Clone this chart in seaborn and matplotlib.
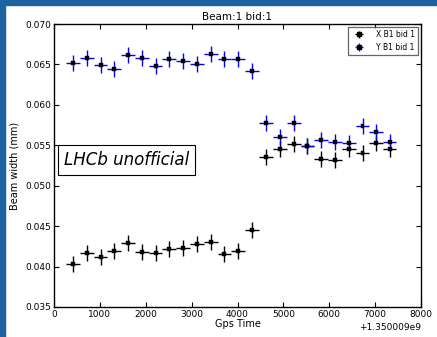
import matplotlib
matplotlib.use("Agg")
import matplotlib.pyplot as plt
import seaborn as sns
import pandas as pd
from matplotlib.patches import Rectangle

T0 = 1350009000
# x positions (seconds after T0)
t_offsets = [415, 715, 1015, 1315, 1615, 1915, 2215, 2515, 2815, 3115, 3415, 3715, 4015, 4315,
             4625, 4925, 5225, 5525, 5825, 6125, 6425, 6725, 7025, 7315]
x_width = [0.04036, 0.04168, 0.04122, 0.04189, 0.04288, 0.04184, 0.04168, 0.04213, 0.04230,
           0.04275, 0.04308, 0.04159, 0.04193, 0.04449,
           0.05359, 0.05454, 0.05520, 0.05495, 0.05330, 0.05318, 0.05450, 0.05405, 0.05524, 0.05454]
y_width = [0.06514, 0.06583, 0.06489, 0.06443, 0.06613, 0.06580, 0.06484, 0.06571, 0.06542,
           0.06509, 0.06625, 0.06563, 0.06563, 0.06423,
           0.05772, 0.05599, 0.05779, 0.05495, 0.05569, 0.05541, 0.05524, 0.05738, 0.05668, 0.05537]
t_err = 150
w_err = 0.001
labels = ["X B1 bid 1", "Y B1 bid 1"]
colors = ["black", "blue"]

sns.set_theme(style="ticks")
plt.rcParams['font.family'] = ['DejaVu Sans']
plt.rcParams['text.color'] = 'black'
plt.rcParams['axes.labelcolor'] = 'black'
plt.rcParams['xtick.color'] = 'black'
plt.rcParams['ytick.color'] = 'black'
plt.rcParams['xtick.direction'] = 'in'
plt.rcParams['ytick.direction'] = 'in'
plt.rcParams['xtick.top'] = True
plt.rcParams['ytick.right'] = True

t = [T0 + o for o in t_offsets]
df = pd.DataFrame({"t": t * 2, "w": x_width + y_width,
                   "s": [labels[0]] * len(t) + [labels[1]] * len(t)})

fig = plt.figure(figsize=(4.37, 3.37), dpi=100)
fig.patch.set_facecolor("white")
fig.patches.append(Rectangle((0, 1 - 5 / 337), 1, 5 / 337, transform=fig.transFigure,
                             color="#1b64a0", zorder=-1))
fig.patches.append(Rectangle((0, 0), 5 / 437, 1, transform=fig.transFigure,
                             color="#1b64a0", zorder=-1))
ax = fig.add_axes([54 / 437, 30 / 337, 367 / 437, 283 / 337])

for lab, col, vals in zip(labels, colors, [x_width, y_width]):
    ax.errorbar(t, vals, xerr=t_err, yerr=w_err, fmt='none', ecolor=col, elinewidth=1,
                capsize=0, label=lab)
sns.scatterplot(data=df, x="t", y="w", hue="s", palette=["black", "black"], marker='s', s=8,
                edgecolor='black', linewidth=0.3, legend=False, ax=ax, zorder=3)

ax.set_xlim(T0, T0 + 8000)
ax.set_ylim(0.035, 0.070)
ax.set_xticks([T0 + k * 1000 for k in range(9)])
ax.set_yticks([0.035 + 0.005 * k for k in range(8)])
fmt = matplotlib.ticker.ScalarFormatter(useOffset=T0)
ax.xaxis.set_major_formatter(fmt)
ax.yaxis.set_major_formatter(matplotlib.ticker.FormatStrFormatter('%.3f'))
ax.tick_params(labelsize=6.5, length=3.5, width=0.8, pad=2)
ax.xaxis.get_offset_text().set_fontsize(6.5)
for sp in ax.spines.values():
    sp.set_linewidth(1.0)
    sp.set_color('black')

ax.set_title("Beam:1 bid:1", fontsize=7.5, pad=3)
ax.set_xlabel("Gps Time", fontsize=7, labelpad=0)
ax.set_ylabel("Beam width (mm)", fontsize=7, labelpad=4)

handles = []
for col in colors:
    handles.append(ax.errorbar([], [], xerr=[], yerr=[], fmt='s', ms=2.5, color=col,
                               mfc='black', mec='black', elinewidth=1))
leg = ax.legend(handles, labels, loc='upper right', fontsize=5.5, frameon=True, fancybox=False,
                edgecolor='0.25', borderpad=0.4, handlelength=2.0, handletextpad=1.2,
                borderaxespad=0.4, labelcolor='black')
leg.get_frame().set_linewidth(0.9)

ax.text(0.027, 0.52, "LHCb unofficial", transform=ax.transAxes, fontsize=12, style='italic',
        va='center', ha='left',
        bbox=dict(boxstyle='square,pad=0.35', fc='white', ec='black', lw=0.8))

fig.savefig("out.png", dpi=100, facecolor=fig.get_facecolor())
